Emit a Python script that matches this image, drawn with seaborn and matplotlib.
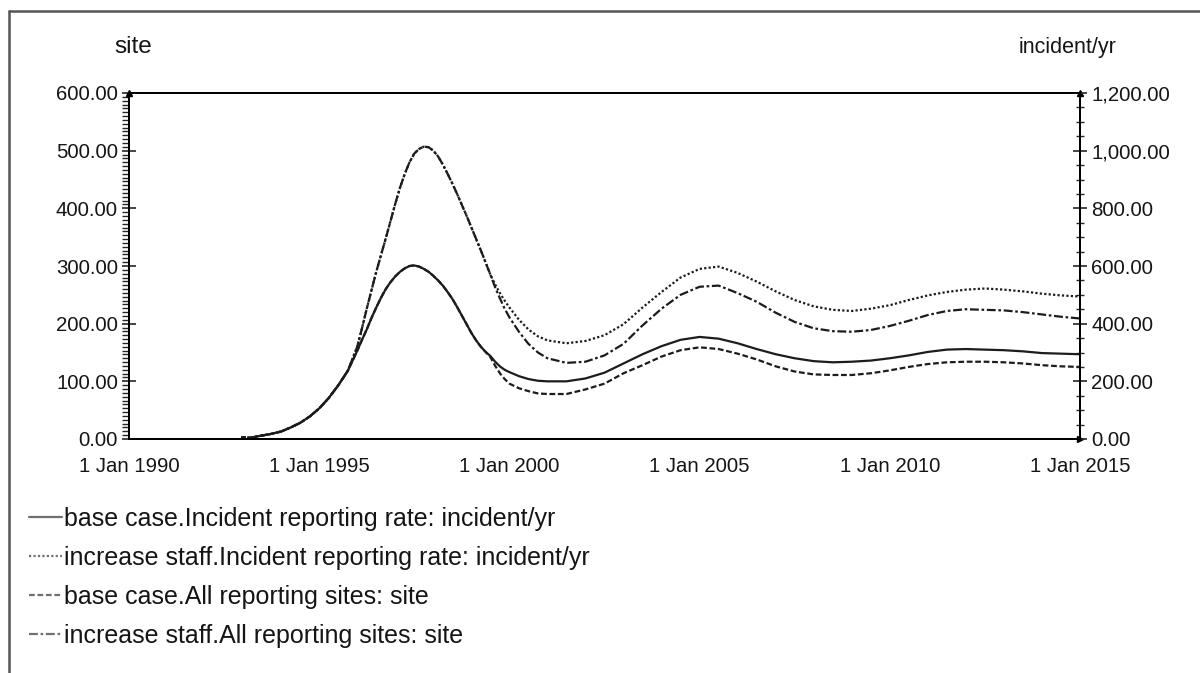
import matplotlib
matplotlib.use("Agg")
import matplotlib.pyplot as plt
import seaborn as sns
import pandas as pd
from matplotlib.lines import Line2D
from matplotlib.ticker import MultipleLocator, FuncFormatter

# simulation time (years); denser around the 1997 peak
years = [1993.0, 1993.25, 1993.5, 1993.75, 1994.0, 1994.25, 1994.5, 1994.75,
         1995.0, 1995.25, 1995.5, 1995.75,
         1996.0, 1996.125, 1996.25, 1996.375, 1996.5, 1996.625, 1996.75, 1996.875,
         1997.0, 1997.125, 1997.25, 1997.375, 1997.5, 1997.625, 1997.75, 1997.875,
         1998.0, 1998.125, 1998.25, 1998.375, 1998.5, 1998.625, 1998.75, 1998.875,
         1999.0, 1999.125, 1999.25, 1999.375, 1999.5, 1999.625, 1999.75, 1999.875,
         2000.0, 2000.25, 2000.5, 2000.75, 2001.0,
         2001.5, 2002.0, 2002.5, 2003.0, 2003.5, 2004.0, 2004.5,
         2005.0, 2005.5, 2006.0, 2006.5, 2007.0, 2007.5, 2008.0, 2008.5,
         2009.0, 2009.5, 2010.0, 2010.5, 2011.0, 2011.5, 2012.0, 2012.5,
         2013.0, 2013.5, 2014.0, 2014.5, 2015.0]

# incident/yr (right axis)
base_rate = [2, 6, 12, 18, 26, 40, 56, 78, 106, 142, 186, 236,
             306, 344, 380, 420, 456, 490, 520, 544,
             564, 580, 592, 600, 602, 598, 590, 580,
             566, 550, 532, 510, 486, 458, 428, 398,
             368, 342, 320, 302, 288, 268, 252, 240,
             232, 218, 208, 202, 200,
             200, 210, 230, 262, 294, 322, 344,
             354, 348, 332, 312, 294, 280, 270, 266,
             268, 272, 280, 290, 302, 310, 312, 310,
             308, 304, 298, 296, 294]
staff_rate = [2, 6, 12, 18, 26, 40, 56, 78, 106, 142, 186, 236,
              320, 384, 452, 516, 580, 638, 696, 756,
              816, 872, 920, 960, 990, 1006, 1014, 1012,
              1000, 980, 952, 920, 886, 850, 812, 774,
              734, 694, 654, 612, 570, 536, 506, 480,
              456, 414, 380, 356, 342,
              332, 340, 360, 398, 456, 510, 560,
              590, 598, 576, 546, 512, 482, 460, 448,
              444, 452, 464, 482, 498, 510, 518, 522,
              518, 512, 504, 498, 494]

# site (left axis)
base_sites = [1, 3, 6, 9, 13, 20, 28, 39, 53, 71, 93, 118,
              153, 172, 190, 210, 228, 245, 260, 272,
              282, 290, 296, 300, 301, 299, 295, 290,
              283, 275, 266, 255, 243, 229, 214, 199,
              184, 171, 160, 151, 142, 127, 114, 104,
              96, 88, 83, 79, 78,
              78, 86, 96, 114, 128, 143, 154,
              159, 156, 148, 138, 126, 117, 112, 111,
              111, 114, 119, 125, 130, 133, 134, 134,
              133, 131, 128, 126, 125]
staff_sites = [1, 3, 6, 9, 13, 20, 28, 39, 53, 71, 93, 118,
               160, 192, 226, 258, 290, 319, 348, 378,
               408, 436, 460, 480, 495, 503, 507, 506,
               500, 490, 476, 460, 443, 425, 406, 387,
               367, 347, 327, 306, 285, 263, 244, 226,
               211, 186, 165, 150, 140,
               132, 134, 145, 165, 197, 226, 250,
               264, 266, 253, 238, 219, 203, 192, 187,
               186, 189, 196, 205, 215, 222, 225, 224,
               223, 220, 216, 212, 209]

labels = ["base case.Incident reporting rate: incident/yr",
          "increase staff.Incident reporting rate: incident/yr",
          "base case.All reporting sites: site",
          "increase staff.All reporting sites: site"]

df = pd.DataFrame({"year": years, "base_rate": base_rate, "staff_rate": staff_rate,
                   "base_sites": base_sites, "staff_sites": staff_sites})

sns.set_style("white")
plt.rcParams["font.family"] = ["Liberation Sans", "DejaVu Sans"]
FS = 14.7
TXT = "#151515"

fig = plt.figure(figsize=(12, 6.73), dpi=100)
ax = fig.add_axes([129 / 1200, 234 / 673, 951 / 1200, 346 / 673])
ax2 = ax.twinx()

LINE = "#1c1c1c"
styles = [(0, (1.0, 1.0)), (0, (2.6, 1.2)), (0, (4.0, 1.2, 1.2, 1.2))]

sns.lineplot(data=df, x="year", y="base_rate", ax=ax2, color=LINE, lw=1.6,
             linestyle="-", marker="s", markersize=4, markevery=[0])
sns.lineplot(data=df, x="year", y="staff_rate", ax=ax2, color=LINE, lw=1.6,
             linestyle=styles[0])
sns.lineplot(data=df, x="year", y="base_sites", ax=ax, color=LINE, lw=1.6,
             linestyle=styles[1])
sns.lineplot(data=df, x="year", y="staff_sites", ax=ax, color=LINE, lw=1.6,
             linestyle=styles[2])

ax.set_xlim(1990, 2015)
ax.set_ylim(0, 600)
ax2.set_ylim(0, 1200)
for a in (ax, ax2):
    a.set_xlabel("")
    a.set_ylabel("")
    a.grid(False)
    for s in a.spines.values():
        s.set_color("black")
        s.set_linewidth(1.4)
    a.set_facecolor("none")

ax.xaxis.set_major_locator(MultipleLocator(5))
ax.xaxis.set_minor_locator(MultipleLocator(1))
ax.xaxis.set_major_formatter(FuncFormatter(lambda v, p: f"1 Jan {int(round(v))}"))
ax.yaxis.set_major_locator(MultipleLocator(100))
ax.yaxis.set_minor_locator(MultipleLocator(100 / 15))
ax.yaxis.set_major_formatter(FuncFormatter(lambda v, p: f"{v:,.2f}"))
ax2.yaxis.set_major_locator(MultipleLocator(200))
ax2.yaxis.set_minor_locator(MultipleLocator(50))
ax2.yaxis.set_major_formatter(FuncFormatter(lambda v, p: f"{v:,.2f}"))

ax.tick_params(axis="x", which="major", direction="inout", length=10, width=1.2,
               labelsize=FS, labelcolor=TXT, pad=8)
ax.tick_params(axis="x", which="minor", direction="in", length=5, width=1)
ax.tick_params(axis="y", which="major", direction="inout", length=10, width=1.2,
               labelsize=FS, labelcolor=TXT, pad=3)
ax.tick_params(axis="y", which="minor", direction="out", length=5, width=1)
ax2.tick_params(axis="y", which="major", direction="inout", length=10, width=1.2,
                labelsize=FS, labelcolor=TXT, pad=3)
ax2.tick_params(axis="y", which="minor", direction="inout", length=6, width=1)

# arrow heads at axis ends
ax.plot([0], [1], marker="^", color="black", ms=5, transform=ax.transAxes, clip_on=False)
ax.plot([1], [1], marker="^", color="black", ms=5, transform=ax.transAxes, clip_on=False)
ax.plot([1], [0], marker=">", color="black", ms=5, transform=ax.transAxes, clip_on=False)

# unit labels
fig.text(133 / 1200, 1 - 47 / 673, "site", ha="center", va="center", fontsize=17.5, color=TXT)
fig.text(1068 / 1200, 1 - 47 / 673, "incident/yr", ha="center", va="center", fontsize=15.5, color=TXT)

# outer frame lines
fig.add_artist(Line2D([9 / 1200, 9 / 1200], [0, 1 - 11 / 673], transform=fig.transFigure,
                      color="#555555", lw=1.8))
fig.add_artist(Line2D([9 / 1200, 1], [1 - 11 / 673, 1 - 11 / 673], transform=fig.transFigure,
                      color="#555555", lw=1.8))

# legend with gray samples
LEG = "#707070"
handles = [Line2D([], [], color=LEG, lw=1.6, linestyle="-"),
           Line2D([], [], color=LEG, lw=1.6, linestyle=styles[0]),
           Line2D([], [], color=LEG, lw=1.6, linestyle=styles[1]),
           Line2D([], [], color=LEG, lw=1.6, linestyle=styles[2])]
leg = fig.legend(handles, labels, loc="upper left", bbox_to_anchor=(29 / 1200, 1 - 507 / 673),
                 frameon=False, fontsize=18, handlelength=1.32, handletextpad=0.08,
                 labelspacing=0.6, borderpad=0, borderaxespad=0)
for t in leg.get_texts():
    t.set_color(TXT)

fig.savefig("out.png", dpi=100, facecolor="white")
